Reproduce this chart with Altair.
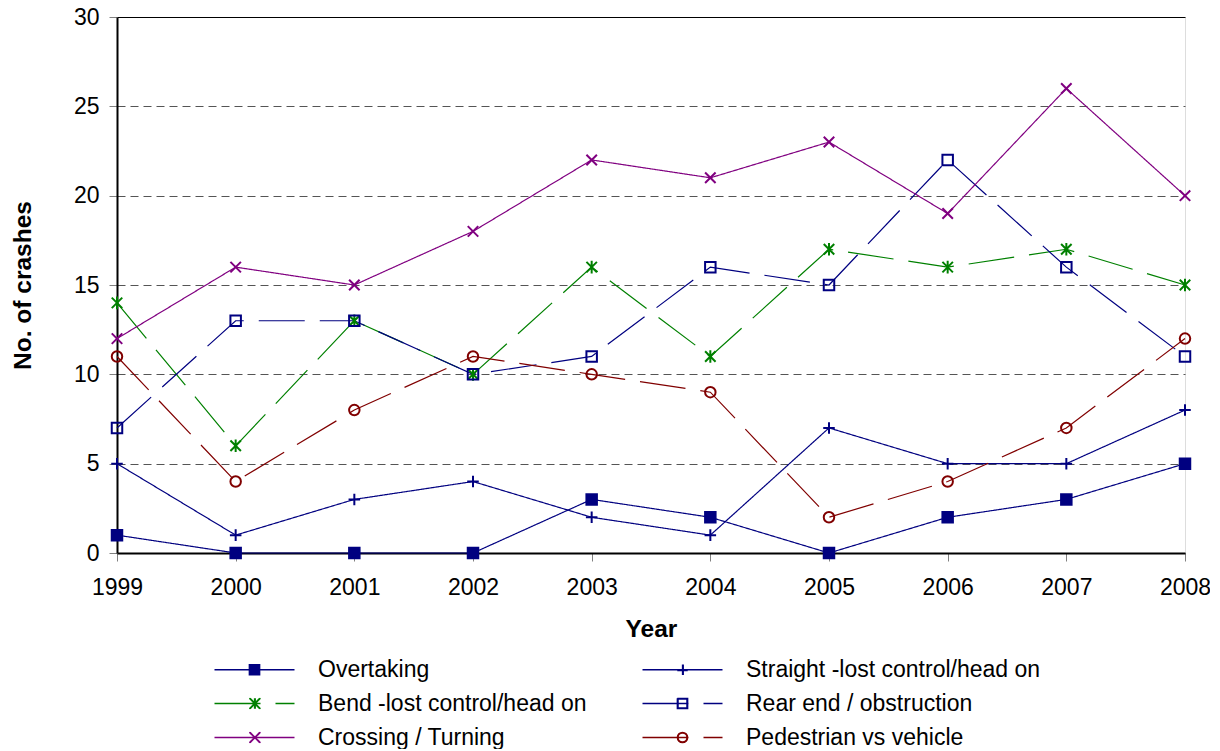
import altair as alt
import pandas as pd

years = [1999, 2000, 2001, 2002, 2003, 2004, 2005, 2006, 2007, 2008]
series_names = [
    "Overtaking",
    "Straight -lost control/head on",
    "Bend -lost control/head on",
    "Rear end / obstruction",
    "Crossing / Turning",
    "Pedestrian vs vehicle",
]
overtaking = [1, 0, 0, 0, 3, 2, 0, 2, 3, 5]
straight = [5, 1, 3, 4, 2, 1, 7, 5, 5, 8]
bend = [14, 6, 13, 10, 16, 11, 17, 16, 17, 15]
rear_end = [7, 13, 13, 10, 11, 16, 15, 22, 16, 11]
crossing = [12, 16, 15, 18, 22, 21, 23, 19, 26, 20]
pedestrian = [11, 4, 8, 11, 10, 9, 2, 4, 7, 12]
y_ticks = [0, 5, 10, 15, 20, 25, 30]

colors = ["#000080", "#000080", "#008000", "#000080", "#800080", "#800000"]
fills = ["#000080", "transparent", "transparent", "transparent", "transparent", "transparent"]
dashes = [[1, 0], [1, 0], [46, 15], [46, 15], [1, 0], [46, 15]]

# marker shapes in the plot (unit square paths)
plot_shapes = [
    "M-1,-1H1V1H-1Z",
    "M-1.1,0H1.1M0,-1.1V1.1",
    "M-1,-1L1,1M-1,1L1,-1M0,-1.2V1.2",
    "M-1,-1H1V1H-1Z",
    "M-1,-1L1,1M-1,1L1,-1",
    "M-1,0A1,1 0 1,0 1,0A1,1 0 1,0 -1,0Z",
]
# legend symbols: a line with the marker in its middle (1 unit = 10 px)
s = 0.52
d = 0.08
legend_shapes = [
    f"M-4,0H4M{-s},{-s}H{s}V{s}H{-s}Z",
    f"M-4,0H4M{-s},0H{s}M0,{-s}V{s}M{-s},{d}H{s}M{d},{-s}V{s}",
    f"M-4,0H4M{-s},{-s}L{s},{s}M{-s},{s}L{s},{-s}M0,{-s}V{s}M{-s+d},{-s}L{s+d},{s}M{-s+d},{s}L{s+d},{-s}M{d},{-s}V{s}",
    f"M-4,0H4M{-s},{-s}H{s}V{s}H{-s}ZM{-s+d},{-s+d}H{s-d}V{s-d}H{-s+d}Z",
    f"M-4,0H4M{-s},{-s}L{s},{s}M{-s},{s}L{s},{-s}M{-s+d},{-s}L{s+d},{s}M{-s+d},{s}L{s+d},{-s}",
    f"M-4,0H4M{-s},0A{s},{s} 0 1,0 {s},0A{s},{s} 0 1,0 {-s},0ZM{-s+d},0A{s-d},{s-d} 0 1,0 {s-d},0A{s-d},{s-d} 0 1,0 {-s+d},0Z",
]

values = [overtaking, straight, bend, rear_end, crossing, pedestrian]
rows = []
for name, vals in zip(series_names, values):
    for yr, v in zip(years, vals):
        rows.append({"year": yr, "crashes": v, "series": name})
df = pd.DataFrame(rows)

FONT = "Liberation Sans"
FS = 23
TFS = 24.5

x_enc = alt.X(
    "year:O",
    scale=alt.Scale(type="point", padding=0),
    axis=alt.Axis(
        title="Year", labelAngle=0, labelFontSize=FS, labelFont=FONT, labelColor="black",
        titleFontSize=TFS, titleFont=FONT, titleFontWeight="bold", titleColor="black",
        titlePadding=18, labelPadding=15, tickSize=8, tickColor="#808080",
        domainColor="black", domainWidth=2, grid=False,
    ),
)
y_enc = alt.Y(
    "crashes:Q",
    scale=alt.Scale(domain=[0, 30], nice=False),
    axis=alt.Axis(
        title="No. of crashes", values=y_ticks, labelFontSize=FS, labelFont=FONT, labelColor="black",
        titleFontSize=TFS, titleFont=FONT, titleFontWeight="bold", titleColor="black",
        titlePadding=38, labelPadding=10, tickSize=8, tickColor="#808080",
        domainColor="black", domainWidth=2, grid=True,
        gridColor=alt.condition("datum.value == 30", alt.value("black"), alt.value("#555555")),
        gridDash=alt.condition("datum.value == 30", alt.value([]), alt.value([8, 5])),
        gridWidth=1,
    ),
)

stroke_scale = alt.Scale(domain=series_names, range=colors)
dash_scale = alt.Scale(domain=series_names, range=dashes)

lines = alt.Chart(df).mark_line(strokeWidth=1.2).encode(
    x=x_enc, y=y_enc,
    stroke=alt.Stroke("series:N", scale=stroke_scale, legend=None),
    strokeDash=alt.StrokeDash("series:N", scale=dash_scale, legend=None),
    detail="series:N",
)

points = alt.Chart(df).mark_point(filled=False, size=110, strokeWidth=2, opacity=1).encode(
    x=x_enc, y=y_enc,
    stroke=alt.Stroke("series:N", scale=stroke_scale, legend=None),
    fill=alt.Fill("series:N", scale=alt.Scale(domain=series_names, range=fills), legend=None),
    shape=alt.Shape("series:N", scale=alt.Scale(domain=series_names, range=plot_shapes), legend=None),
)

leg = alt.Legend(
    orient="none", legendX=126, legendY=641, columns=2, direction="horizontal", title=None,
    symbolSize=400, symbolStrokeWidth=1.3, labelFontSize=FS, labelFont=FONT,
    labelColor="black", labelOffset=52, columnPadding=52, rowPadding=10,
    padding=0, symbolLimit=0, labelLimit=0,
)
legend_layer = alt.Chart(df).transform_filter("false").mark_point(filled=False, opacity=1).encode(
    x=alt.X("year:O"), y=alt.Y("crashes:Q"),
    stroke=alt.Stroke("series:N", scale=alt.Scale(domain=series_names, range=colors), legend=leg),
    fill=alt.Fill("series:N", scale=alt.Scale(domain=series_names, range=fills), legend=leg),
    shape=alt.Shape("series:N", scale=alt.Scale(domain=series_names, range=legend_shapes), legend=leg),
    strokeDash=alt.StrokeDash("series:N", scale=alt.Scale(domain=series_names, range=dashes), legend=leg),
)

chart = (
    alt.layer(lines, points, legend_layer)
    .resolve_scale(shape="independent", stroke="independent", fill="independent", strokeDash="independent")
    .properties(
        width=1068, height=536,
        autosize=alt.AutoSizeParams(type="none"),
        padding={"left": 109, "top": 9, "right": 25, "bottom": 196},
    )
    .configure_view(stroke="#808080", strokeWidth=1)
    .configure(background="white")
)

chart.save("out.html", embed_options={"renderer": "svg", "actions": False})
